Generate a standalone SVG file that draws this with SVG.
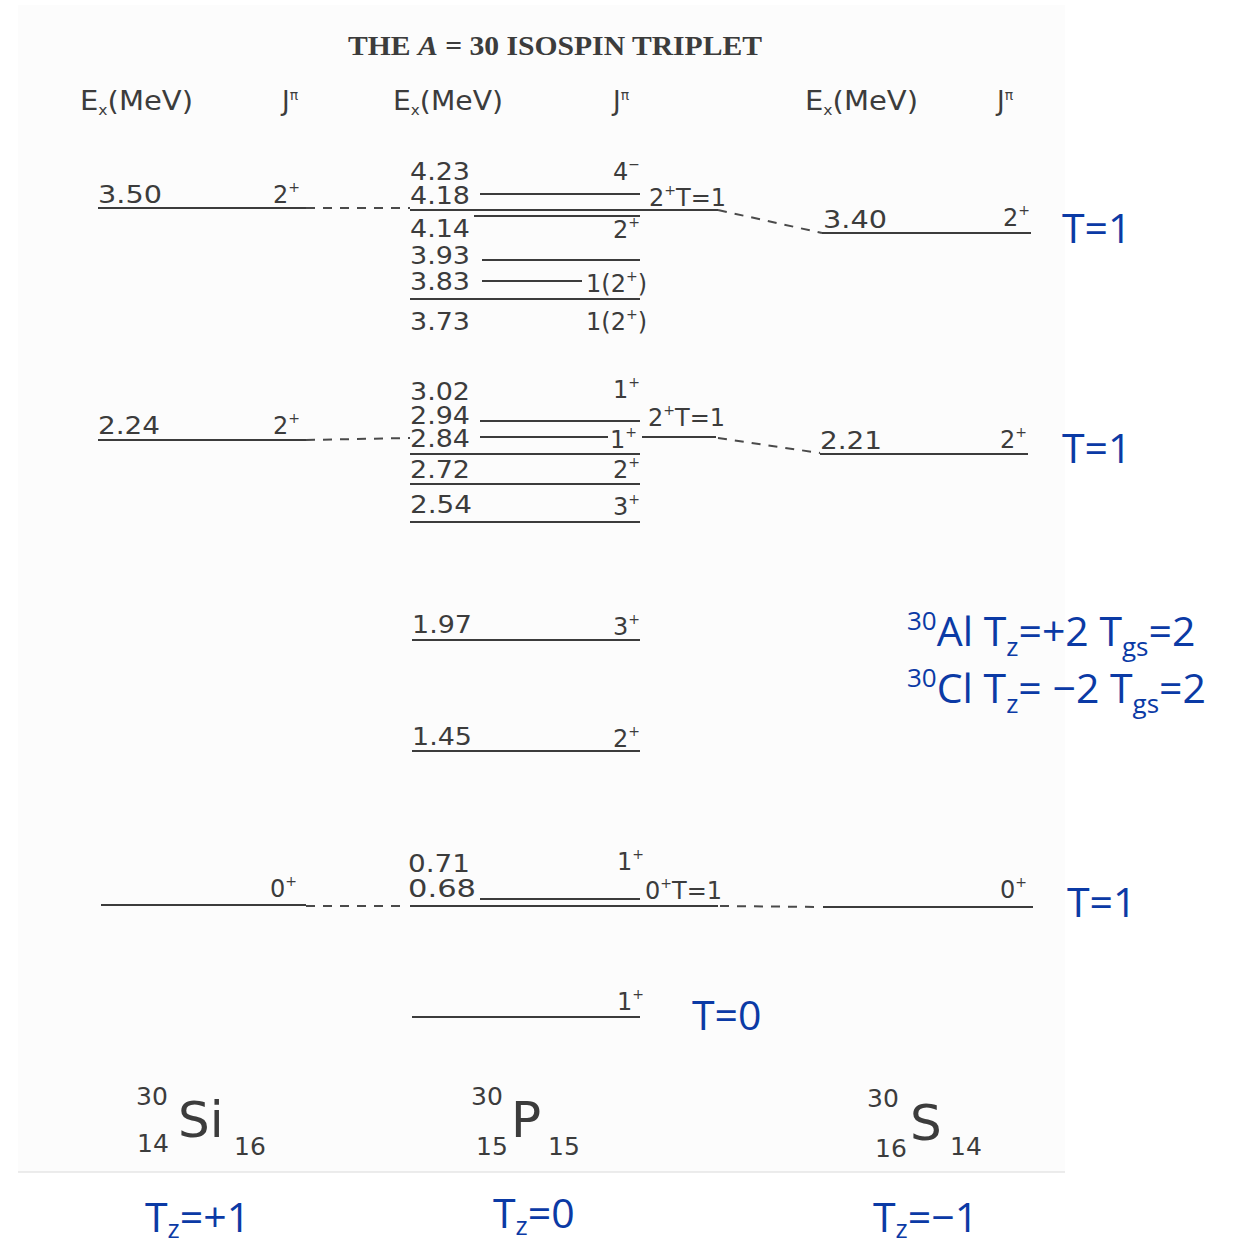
<svg xmlns="http://www.w3.org/2000/svg" width="1240" height="1244" viewBox="0 0 1240 1244">
<style>
.s{font-family:"DejaVu Sans","Noto Sans",sans-serif;font-size:24px;fill:#3c3c3c}
.h{font-family:"DejaVu Sans","Noto Sans",sans-serif;font-size:26px;fill:#3c3c3c}
.sup{font-size:14px}
.lv{stroke:#3c3c3c;stroke-width:2.2;fill:none}
.cn{stroke:#4a4a4a;stroke-width:2;stroke-dasharray:9 8;fill:none}
.b{font-family:"Open Sans","Noto Sans",sans-serif;font-size:41px;fill:#0b3aa5}
.bs{font-size:26px}
.nuc{font-family:"DejaVu Sans","Noto Sans",sans-serif;fill:#3c3c3c}
</style>
<rect x="0" y="0" width="1240" height="1244" fill="#ffffff"/>
<rect x="18" y="5" width="1047" height="1167" fill="#fcfcfc"/>
<line x1="18" y1="1172" x2="1065" y2="1172" stroke="#e6e6e6" stroke-width="1.5"/>

<g id="title">
<text x="348" y="55" font-family="Liberation Serif,serif" font-weight="bold" font-size="28" fill="#3c3c3c" textLength="414" lengthAdjust="spacingAndGlyphs">THE <tspan font-style="italic">A</tspan> = 30 ISOSPIN TRIPLET</text>
</g>

<g id="headers">
<text class="h" x="80" y="110" textLength="113" lengthAdjust="spacingAndGlyphs">E<tspan class="sup" dy="5">x</tspan><tspan dy="-5">(MeV)</tspan></text>
<text class="h" x="282" y="110">J<tspan class="sup" dy="-10">π</tspan></text>
<text class="h" x="393" y="110" textLength="110" lengthAdjust="spacingAndGlyphs">E<tspan class="sup" dy="5">x</tspan><tspan dy="-5">(MeV)</tspan></text>
<text class="h" x="613" y="110">J<tspan class="sup" dy="-10">π</tspan></text>
<text class="h" x="805" y="110" textLength="113" lengthAdjust="spacingAndGlyphs">E<tspan class="sup" dy="5">x</tspan><tspan dy="-5">(MeV)</tspan></text>
<text class="h" x="997" y="110">J<tspan class="sup" dy="-10">π</tspan></text>
</g>

<g id="connectors">
<line class="cn" x1="306" y1="208" x2="410" y2="208"/>
<line class="cn" x1="718" y1="210" x2="822" y2="233"/>
<line class="cn" x1="306" y1="440" x2="410" y2="438"/>
<line class="cn" x1="718" y1="438" x2="820" y2="453"/>
<line class="cn" x1="306" y1="906" x2="400" y2="906"/>
<line class="cn" x1="720" y1="906" x2="822" y2="907"/>
</g>

<g id="si-350">
<line class="lv" x1="98" y1="208" x2="306" y2="208"/>
<text class="s" x="98" y="203" textLength="64" lengthAdjust="spacingAndGlyphs">3.50</text>
<text class="s" x="273" y="203">2<tspan class="sup" dy="-11">+</tspan></text>
</g>
<g id="si-224">
<line class="lv" x1="98" y1="440" x2="306" y2="440"/>
<text class="s" x="98" y="434" textLength="62" lengthAdjust="spacingAndGlyphs">2.24</text>
<text class="s" x="273" y="434">2<tspan class="sup" dy="-11">+</tspan></text>
</g>
<g id="si-0">
<line class="lv" x1="101" y1="905" x2="306" y2="905"/>
<text class="s" x="270" y="897">0<tspan class="sup" dy="-11">+</tspan></text>
</g>

<g id="p-423">
<text class="s" x="410" y="180" textLength="60" lengthAdjust="spacingAndGlyphs">4.23</text>
<text class="s" x="613" y="180">4<tspan class="sup" dy="-11">−</tspan></text>
</g>
<g id="p-418">
<text class="s" x="410" y="204" textLength="60" lengthAdjust="spacingAndGlyphs">4.18</text>
<line class="lv" x1="480" y1="194" x2="640" y2="194"/>
<text class="s" x="649" y="206">2<tspan class="sup" dy="-11">+</tspan><tspan dy="11">T=1</tspan></text>
<line class="lv" x1="410" y1="210" x2="718" y2="210"/>
</g>
<g id="p-414">
<line class="lv" x1="474" y1="216" x2="640" y2="216"/>
<text class="s" x="410" y="237" textLength="60" lengthAdjust="spacingAndGlyphs">4.14</text>
<text class="s" x="613" y="238">2<tspan class="sup" dy="-11">+</tspan></text>
</g>
<g id="p-393">
<text class="s" x="410" y="264" textLength="60" lengthAdjust="spacingAndGlyphs">3.93</text>
<line class="lv" x1="482" y1="260" x2="640" y2="260"/>
</g>
<g id="p-383">
<text class="s" x="410" y="290" textLength="60" lengthAdjust="spacingAndGlyphs">3.83</text>
<line class="lv" x1="482" y1="281" x2="582" y2="281"/>
<text class="s" x="586" y="292">1(2<tspan class="sup" dy="-11">+</tspan><tspan dy="11">)</tspan></text>
</g>
<g id="p-373">
<line class="lv" x1="410" y1="299" x2="640" y2="299"/>
<text class="s" x="410" y="330" textLength="60" lengthAdjust="spacingAndGlyphs">3.73</text>
<text class="s" x="586" y="330">1(2<tspan class="sup" dy="-11">+</tspan><tspan dy="11">)</tspan></text>
</g>

<g id="p-302">
<text class="s" x="410" y="400" textLength="60" lengthAdjust="spacingAndGlyphs">3.02</text>
<text class="s" x="613" y="398">1<tspan class="sup" dy="-11">+</tspan></text>
</g>
<g id="p-294">
<text class="s" x="410" y="424" textLength="60" lengthAdjust="spacingAndGlyphs">2.94</text>
<line class="lv" x1="480" y1="421" x2="640" y2="421"/>
<text class="s" x="648" y="426">2<tspan class="sup" dy="-11">+</tspan><tspan dy="11">T=1</tspan></text>
</g>
<g id="p-284">
<text class="s" x="410" y="447" textLength="60" lengthAdjust="spacingAndGlyphs">2.84</text>
<line class="lv" x1="480" y1="437" x2="608" y2="437"/>
<text class="s" x="610" y="448">1<tspan class="sup" dy="-11">+</tspan></text>
<line class="lv" x1="642" y1="437" x2="716" y2="437"/>
<line class="lv" x1="410" y1="454" x2="640" y2="454"/>
</g>
<g id="p-272">
<text class="s" x="410" y="478" textLength="60" lengthAdjust="spacingAndGlyphs">2.72</text>
<text class="s" x="613" y="478">2<tspan class="sup" dy="-11">+</tspan></text>
<line class="lv" x1="410" y1="484" x2="640" y2="484"/>
</g>
<g id="p-254">
<text class="s" x="410" y="513" textLength="62" lengthAdjust="spacingAndGlyphs">2.54</text>
<text class="s" x="613" y="515">3<tspan class="sup" dy="-11">+</tspan></text>
<line class="lv" x1="410" y1="522" x2="640" y2="522"/>
</g>
<g id="p-197">
<text class="s" x="412" y="633" textLength="60" lengthAdjust="spacingAndGlyphs">1.97</text>
<text class="s" x="613" y="635">3<tspan class="sup" dy="-11">+</tspan></text>
<line class="lv" x1="412" y1="640" x2="640" y2="640"/>
</g>
<g id="p-145">
<text class="s" x="412" y="745" textLength="60" lengthAdjust="spacingAndGlyphs">1.45</text>
<text class="s" x="613" y="747">2<tspan class="sup" dy="-11">+</tspan></text>
<line class="lv" x1="412" y1="751" x2="640" y2="751"/>
</g>
<g id="p-071">
<text class="s" x="408" y="872" textLength="62" lengthAdjust="spacingAndGlyphs">0.71</text>
<text class="s" x="617" y="870">1<tspan class="sup" dy="-11">+</tspan></text>
</g>
<g id="p-068">
<text class="s" x="408" y="897" textLength="68" lengthAdjust="spacingAndGlyphs">0.68</text>
<line class="lv" x1="480" y1="899" x2="640" y2="899"/>
<text class="s" x="645" y="899">0<tspan class="sup" dy="-11">+</tspan><tspan dy="11">T=1</tspan></text>
<line class="lv" x1="410" y1="906" x2="718" y2="906"/>
</g>
<g id="p-0">
<line class="lv" x1="412" y1="1017" x2="640" y2="1017"/>
<text class="s" x="617" y="1010">1<tspan class="sup" dy="-11">+</tspan></text>
<text class="b" x="692" y="1030">T=0</text>
</g>

<g id="s-340">
<text class="s" x="823" y="228" textLength="64" lengthAdjust="spacingAndGlyphs">3.40</text>
<line class="lv" x1="822" y1="233" x2="1031" y2="233"/>
<text class="s" x="1003" y="226">2<tspan class="sup" dy="-11">+</tspan></text>
<text class="b" x="1062" y="243">T=1</text>
</g>
<g id="s-221">
<text class="s" x="820" y="449" textLength="62" lengthAdjust="spacingAndGlyphs">2.21</text>
<line class="lv" x1="820" y1="454" x2="1028" y2="454"/>
<text class="s" x="1000" y="448">2<tspan class="sup" dy="-11">+</tspan></text>
<text class="b" x="1062" y="463">T=1</text>
</g>
<g id="s-0">
<line class="lv" x1="823" y1="907" x2="1033" y2="907"/>
<text class="s" x="1000" y="898">0<tspan class="sup" dy="-11">+</tspan></text>
<text class="b" x="1067" y="917">T=1</text>
</g>

<g id="mirror-note">
<text class="b" x="907" y="646"><tspan class="bs" dy="-16">30</tspan><tspan dy="16">Al T</tspan><tspan class="bs" dy="10">z</tspan><tspan dy="-10">=+2 T</tspan><tspan class="bs" dy="10">gs</tspan><tspan dy="-10">=2</tspan></text>
<text class="b" x="907" y="703"><tspan class="bs" dy="-16">30</tspan><tspan dy="16">Cl T</tspan><tspan class="bs" dy="10">z</tspan><tspan dy="-10">= −2 T</tspan><tspan class="bs" dy="10">gs</tspan><tspan dy="-10">=2</tspan></text>
</g>

<g id="nuclide-si">
<text class="nuc" x="136" y="1105" font-size="25">30</text>
<text class="nuc" x="178" y="1137" font-size="50">Si</text>
<text class="nuc" x="137" y="1152" font-size="25">14</text>
<text class="nuc" x="234" y="1155" font-size="25">16</text>
<text class="b" x="145" y="1232">T<tspan class="bs" dy="6">z</tspan><tspan dy="-6">=+1</tspan></text>
</g>
<g id="nuclide-p">
<text class="nuc" x="471" y="1105" font-size="25">30</text>
<text class="nuc" x="511" y="1137" font-size="50">P</text>
<text class="nuc" x="476" y="1155" font-size="25">15</text>
<text class="nuc" x="548" y="1155" font-size="25">15</text>
<text class="b" x="493" y="1228">T<tspan class="bs" dy="7">z</tspan><tspan dy="-7">=0</tspan></text>
</g>
<g id="nuclide-s">
<text class="nuc" x="867" y="1107" font-size="25">30</text>
<text class="nuc" x="910" y="1140" font-size="50">S</text>
<text class="nuc" x="875" y="1157" font-size="25">16</text>
<text class="nuc" x="950" y="1155" font-size="25">14</text>
<text class="b" x="873" y="1232">T<tspan class="bs" dy="6">z</tspan><tspan dy="-6">=−1</tspan></text>
</g>
</svg>
